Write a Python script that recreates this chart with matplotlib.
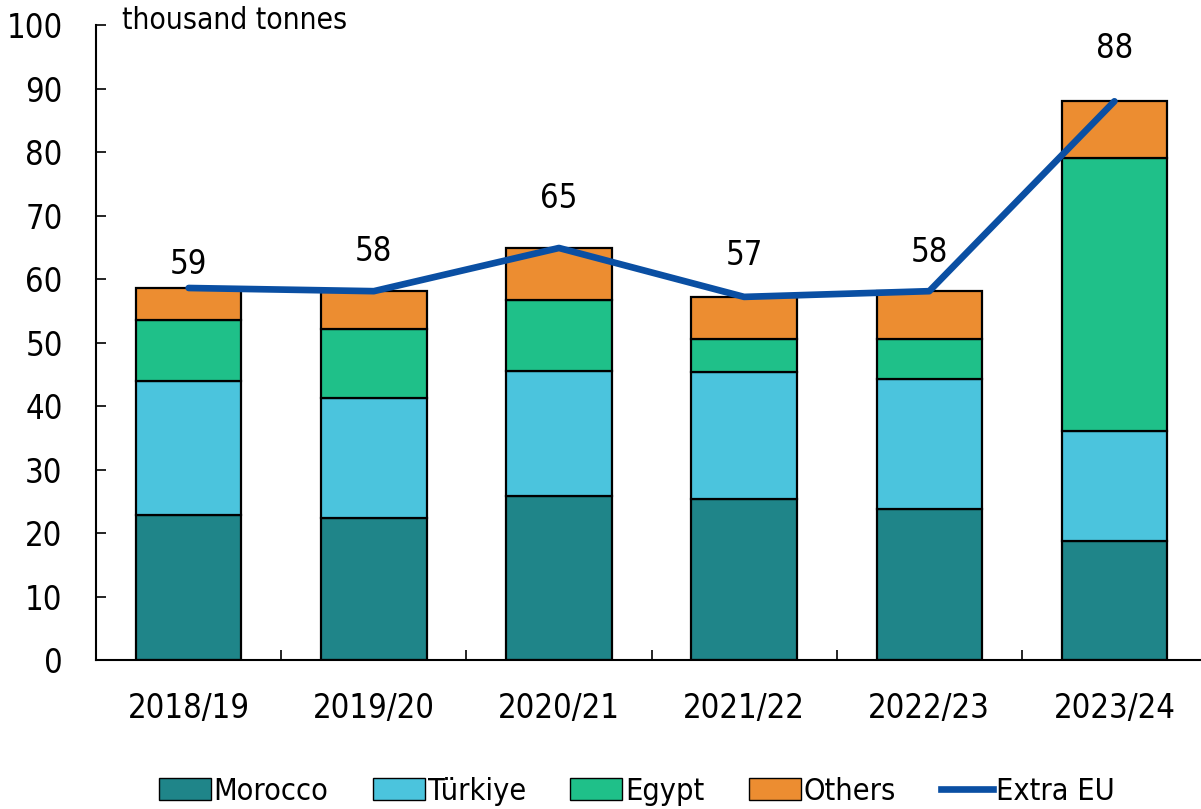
import numpy as np
import matplotlib
matplotlib.use('Agg')
import matplotlib.pyplot as plt
from matplotlib.patches import Patch
from matplotlib.lines import Line2D

# data (thousand tonnes)
seasons = ['2018/19', '2019/20', '2020/21', '2021/22', '2022/23', '2023/24']
morocco = [22.8, 22.4, 25.8, 25.4, 23.8, 18.7]
turkiye = [21.1, 18.9, 19.7, 20.0, 20.5, 17.4]
egypt = [9.6, 10.8, 11.2, 5.2, 6.3, 43.0]
others = [5.1, 6.0, 8.2, 6.6, 7.5, 8.9]
extra_eu = [58.6, 58.1, 64.9, 57.2, 58.1, 88.0]
total_labels = ['59', '58', '65', '57', '58', '88']

col_mor = '#1f8589'
col_tur = '#4bc4dd'
col_egy = '#1fc089'
col_oth = '#ec8d31'
col_line = '#0a4fa3'

plt.rcParams['font.family'] = ['DejaVu Sans']
plt.rcParams['font.stretch'] = 'condensed'
fs = 23.5

fig = plt.figure(figsize=(12.01, 8.09), dpi=100)
ax = fig.add_axes([0.08, 0.184, 0.925, 0.785])

x = np.arange(len(seasons))
w = 0.57
bottom = np.zeros(len(seasons))
for vals, c in [(morocco, col_mor), (turkiye, col_tur), (egypt, col_egy), (others, col_oth)]:
    ax.bar(x, vals, w, bottom=bottom, color=c, edgecolor='black', linewidth=1.6, zorder=2)
    bottom += np.array(vals)

ax.plot(x, extra_eu, color=col_line, linewidth=4.8, solid_capstyle='round', zorder=3)

# labels above the line
offsets = [5, 17, 24, 18, 16, 26]
for i, lab in enumerate(total_labels):
    ax.annotate(lab, (x[i], extra_eu[i]), xytext=(0, offsets[i]), textcoords='offset points',
                ha='center', va='bottom', fontsize=fs)

ax.set_xlim(-0.5, 5.5)
ax.set_ylim(0, 100)
ax.set_yticks(range(0, 101, 10))
ax.tick_params(axis='y', direction='in', length=7, width=1.2, labelsize=fs, pad=24)
ax.set_xticks(x)
ax.set_xticklabels(seasons)
ax.tick_params(axis='x', length=0, labelsize=fs, pad=23)
ax.set_xticks(np.arange(0.5, 5, 1), minor=True)
ax.tick_params(axis='x', which='minor', direction='in', length=7, width=1.2)

for s in ['top', 'right']:
    ax.spines[s].set_visible(False)
ax.spines['left'].set_linewidth(1.5)
ax.spines['bottom'].set_linewidth(1.5)

ax.text(-0.36, 100.7, 'thousand tonnes', fontsize=21.5, va='center', ha='left')

handles = [Patch(facecolor=col_mor, edgecolor='black', label='Morocco'),
           Patch(facecolor=col_tur, edgecolor='black', label='Türkiye'),
           Patch(facecolor=col_egy, edgecolor='black', label='Egypt'),
           Patch(facecolor=col_oth, edgecolor='black', label='Others'),
           Line2D([0], [0], color=col_line, linewidth=4.8, label='Extra EU')]
fig.legend(handles=handles, loc='lower center', bbox_to_anchor=(0.53, -0.03), ncol=5,
           frameon=False, fontsize=22, handlelength=1.7, handletextpad=0.1, columnspacing=1.45)

fig.savefig('out.png', dpi=100)
